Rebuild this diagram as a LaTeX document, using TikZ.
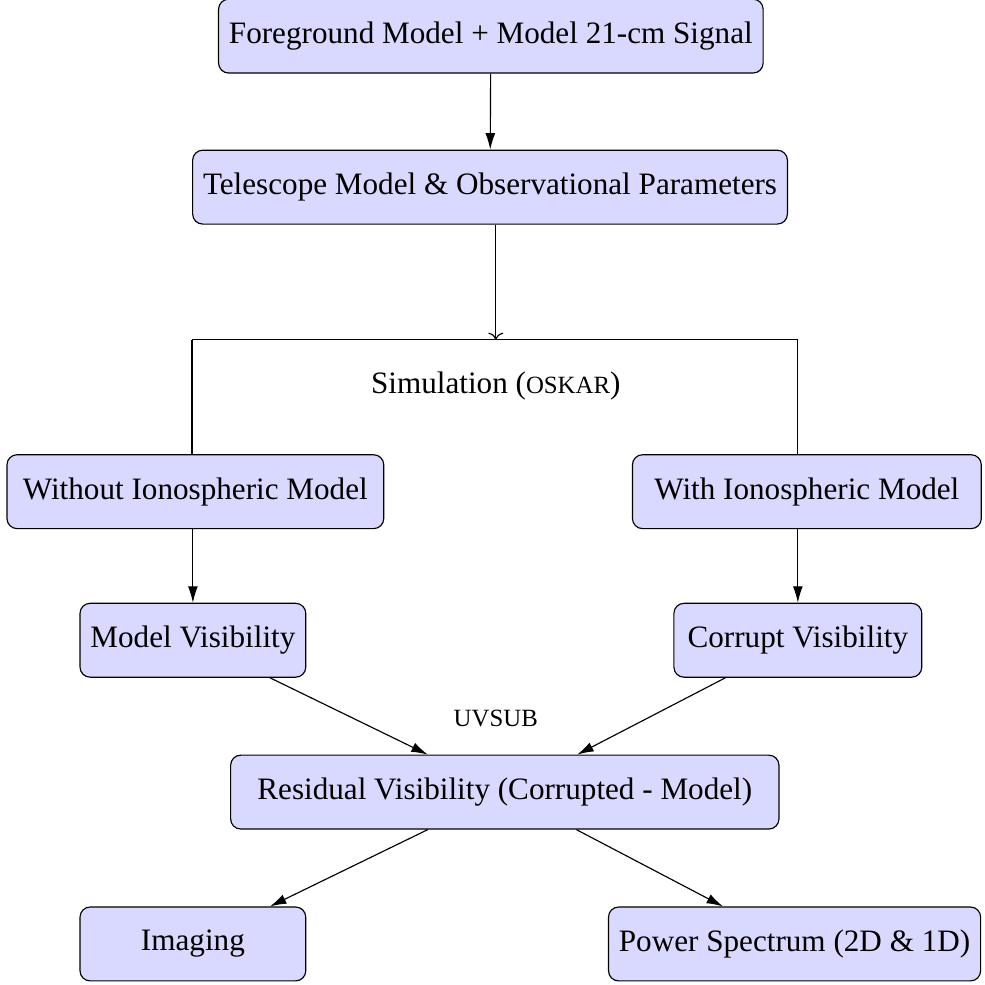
\documentclass[tikz,border=0pt]{standalone}
\usepackage{fontspec}
\setmainfont{Liberation Serif}
\usepackage{xcolor}
\usetikzlibrary{arrows.meta,positioning}
\definecolor{simblue}{RGB}{217,217,255}
\newcommand{\fakesc}[1]{{\fontsize{8.6}{10}\selectfont #1}}
\tikzset{
  simbox/.style={
    rectangle,
    rounded corners=3.5pt,
    draw=black,
    fill=simblue,
    align=center,
    minimum height=0.9cm,
    minimum width=2.75cm,
    inner sep=3.6pt,
    font=\fontsize{10.8}{13}\selectfont
  },
  simlabel/.style={
    font=\fontsize{10.8}{13}\selectfont
  },
  simarrow/.style={
    -{Latex[length=2mm,width=1.2mm]},
    draw=black
  }
}
\begin{document}
\begin{tikzpicture}
\useasboundingbox (0,0) rectangle (12,12);
\node[simbox] (fgmodel) at (5.98,11.56) {Foreground Model + Model 21-cm Signal};
\node[simbox] (telescope) at (5.97,9.72) {Telescope Model \& Observational Parameters};
\node[simbox, minimum width=4.59cm] (noiono) at (2.38,6.01) {Without Ionospheric Model};
\node[simbox, minimum width=4.25cm] (withiono) at (9.83,6.01) {With Ionospheric Model};
\node[simbox] (modelvis) at (2.35,4.20) {Model Visibility};
\node[simbox, minimum width=3.02cm] (corruptvis) at (9.72,4.20) {Corrupt Visibility};
\node[simbox, minimum width=6.68cm] (residual) at (6.15,2.35) {Residual Visibility (Corrupted - Model)};
\node[simbox] (imaging) at (2.35,0.50) {Imaging};
\node[simbox, minimum width=4.52cm] (powerspec) at (9.68,0.50) {Power Spectrum (2D \& 1D)};

\node[simlabel] (simtext) at (6.04,7.30) {Simulation (\fakesc{OSKAR})};
\node[simlabel] (uvsub) at (6.04,3.25) {\fakesc{UVSUB}};

\coordinate (split) at (6.04,7.86);
\coordinate (lsplit) at (2.34,7.86);
\coordinate (rsplit) at (9.72,7.86);

\draw[simarrow] (fgmodel) -- (telescope);
\draw[->] (telescope.south -| split) -- (split);
\draw (lsplit) -- (rsplit);
\draw (lsplit) -- (lsplit |- noiono.north);
\draw (rsplit) -- (rsplit |- withiono.north);
\draw[simarrow] (noiono.south -| modelvis) -- (modelvis.north);
\draw[simarrow] (withiono.south -| corruptvis) -- (corruptvis.north);
\draw[simarrow] (modelvis) -- (residual);
\draw[simarrow] (corruptvis) -- (residual);
\draw[simarrow] (residual) -- (imaging);
\draw[simarrow] (residual) -- (powerspec);
\end{tikzpicture}
\end{document}
